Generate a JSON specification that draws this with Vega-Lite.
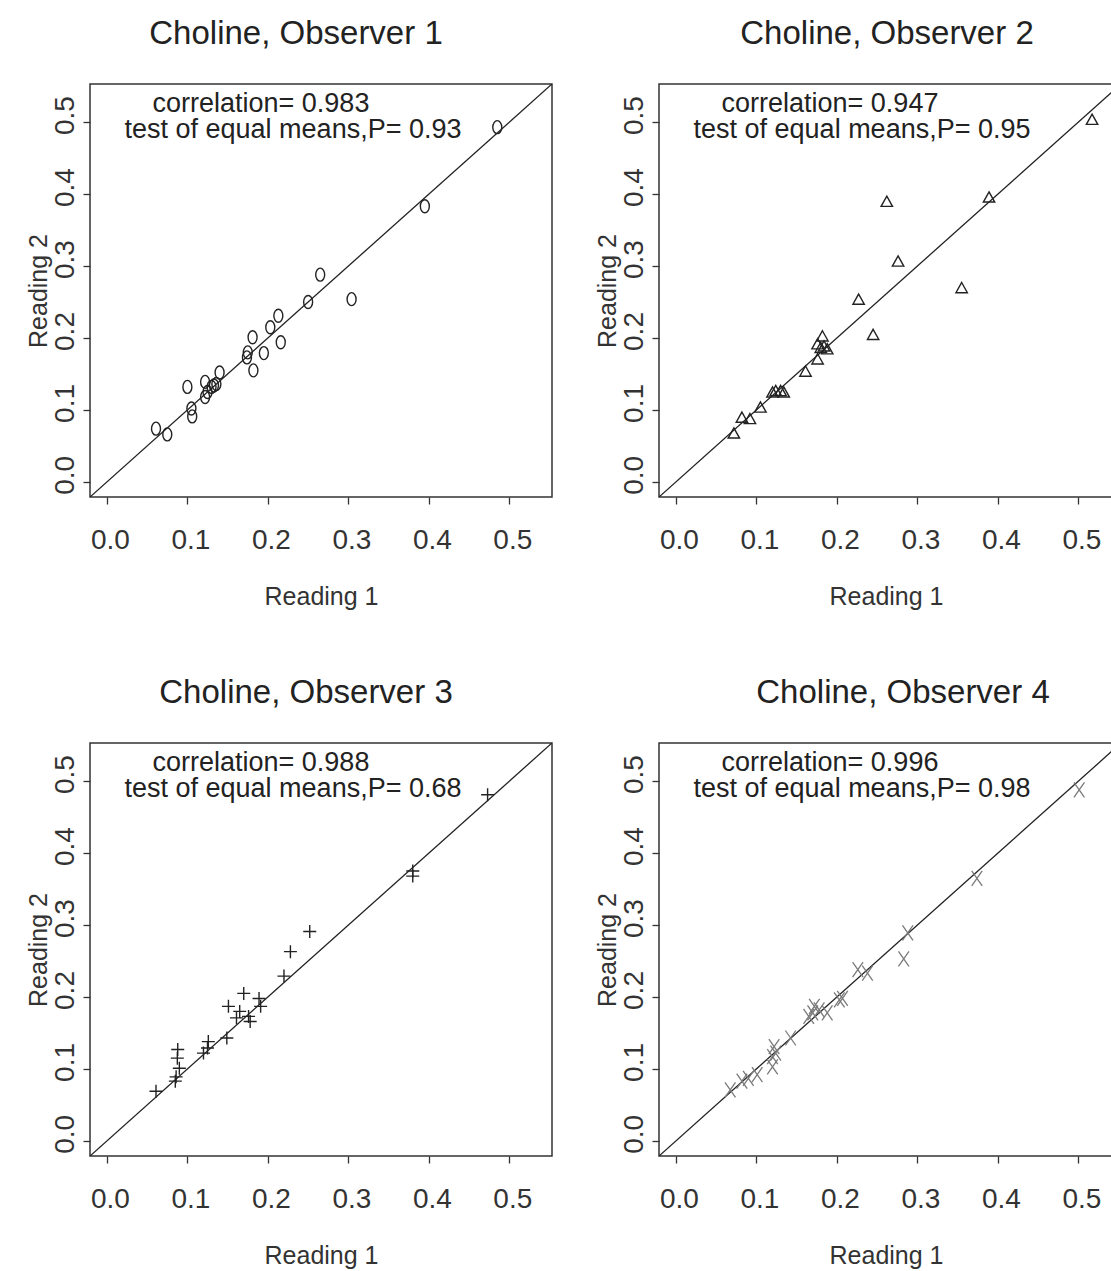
{
  "$schema": "https://vega.github.io/schema/vega-lite/v6.json",
  "padding": {"left": 25, "top": 17, "right": 0, "bottom": 0},
  "background": "white",
  "columns": 2,
  "bounds": "flush",
  "spacing": {"column": 107, "row": 246},
  "config": {
    "view": {"stroke": "#333333", "strokeWidth": 1.5},
    "font": "Liberation Sans",
    "title": {"font": "Liberation Sans", "fontSize": 33, "fontWeight": "normal", "color": "#222222", "offset": 33, "baseline": "alphabetic", "anchor": "middle", "frame": "group"},
    "axis": {"grid": false, "domain": false, "tickColor": "#333333", "tickSize": 7, "tickWidth": 1.3, "labelFont": "Liberation Sans", "labelFontSize": 28, "labelColor": "#333333", "titleFont": "Liberation Sans", "titleFontSize": 25, "titleFontWeight": "normal", "titleColor": "#333333", "format": ".1f", "labelFlush": false, "labelOverlap": false},
    "axisX": {"labelPadding": 22, "titlePadding": 30, "labelAngle": 0, "labelOffset": 3},
    "axisY": {"labelAngle": -90, "labelAlign": "center", "labelBaseline": "bottom", "labelPadding": 4, "titlePadding": 0, "labelOffset": -7}
  },
  "datasets": {
    "points": [
      {"obs": 1, "r1": 0.485, "r2": 0.493}, {"obs": 1, "r1": 0.395, "r2": 0.383}, {"obs": 1, "r1": 0.265, "r2": 0.288}, {"obs": 1, "r1": 0.250, "r2": 0.250}, {"obs": 1, "r1": 0.304, "r2": 0.254},
      {"obs": 1, "r1": 0.213, "r2": 0.231}, {"obs": 1, "r1": 0.203, "r2": 0.215}, {"obs": 1, "r1": 0.181, "r2": 0.201}, {"obs": 1, "r1": 0.216, "r2": 0.194}, {"obs": 1, "r1": 0.195, "r2": 0.179},
      {"obs": 1, "r1": 0.175, "r2": 0.180}, {"obs": 1, "r1": 0.174, "r2": 0.173}, {"obs": 1, "r1": 0.182, "r2": 0.155}, {"obs": 1, "r1": 0.140, "r2": 0.152}, {"obs": 1, "r1": 0.122, "r2": 0.139},
      {"obs": 1, "r1": 0.133, "r2": 0.134}, {"obs": 1, "r1": 0.130, "r2": 0.132}, {"obs": 1, "r1": 0.136, "r2": 0.136}, {"obs": 1, "r1": 0.125, "r2": 0.125}, {"obs": 1, "r1": 0.122, "r2": 0.118},
      {"obs": 1, "r1": 0.100, "r2": 0.132}, {"obs": 1, "r1": 0.105, "r2": 0.102}, {"obs": 1, "r1": 0.106, "r2": 0.091}, {"obs": 1, "r1": 0.061, "r2": 0.074}, {"obs": 1, "r1": 0.075, "r2": 0.066},
      {"obs": 2, "r1": 0.517, "r2": 0.504}, {"obs": 2, "r1": 0.389, "r2": 0.396}, {"obs": 2, "r1": 0.262, "r2": 0.390}, {"obs": 2, "r1": 0.276, "r2": 0.307}, {"obs": 2, "r1": 0.355, "r2": 0.270},
      {"obs": 2, "r1": 0.227, "r2": 0.254}, {"obs": 2, "r1": 0.245, "r2": 0.205}, {"obs": 2, "r1": 0.182, "r2": 0.203}, {"obs": 2, "r1": 0.176, "r2": 0.192}, {"obs": 2, "r1": 0.184, "r2": 0.189},
      {"obs": 2, "r1": 0.188, "r2": 0.185}, {"obs": 2, "r1": 0.180, "r2": 0.187}, {"obs": 2, "r1": 0.176, "r2": 0.171}, {"obs": 2, "r1": 0.161, "r2": 0.154}, {"obs": 2, "r1": 0.124, "r2": 0.127},
      {"obs": 2, "r1": 0.130, "r2": 0.127}, {"obs": 2, "r1": 0.134, "r2": 0.125}, {"obs": 2, "r1": 0.120, "r2": 0.125}, {"obs": 2, "r1": 0.105, "r2": 0.104}, {"obs": 2, "r1": 0.082, "r2": 0.090},
      {"obs": 2, "r1": 0.092, "r2": 0.088}, {"obs": 2, "r1": 0.072, "r2": 0.068},
      {"obs": 3, "r1": 0.473, "r2": 0.481}, {"obs": 3, "r1": 0.380, "r2": 0.375}, {"obs": 3, "r1": 0.380, "r2": 0.368}, {"obs": 3, "r1": 0.252, "r2": 0.291}, {"obs": 3, "r1": 0.228, "r2": 0.263},
      {"obs": 3, "r1": 0.220, "r2": 0.229}, {"obs": 3, "r1": 0.170, "r2": 0.205}, {"obs": 3, "r1": 0.189, "r2": 0.198}, {"obs": 3, "r1": 0.191, "r2": 0.187}, {"obs": 3, "r1": 0.151, "r2": 0.187},
      {"obs": 3, "r1": 0.165, "r2": 0.180}, {"obs": 3, "r1": 0.161, "r2": 0.171}, {"obs": 3, "r1": 0.176, "r2": 0.173}, {"obs": 3, "r1": 0.178, "r2": 0.166}, {"obs": 3, "r1": 0.149, "r2": 0.143},
      {"obs": 3, "r1": 0.126, "r2": 0.138}, {"obs": 3, "r1": 0.125, "r2": 0.129}, {"obs": 3, "r1": 0.120, "r2": 0.122}, {"obs": 3, "r1": 0.088, "r2": 0.127}, {"obs": 3, "r1": 0.0875, "r2": 0.115},
      {"obs": 3, "r1": 0.090, "r2": 0.101}, {"obs": 3, "r1": 0.086, "r2": 0.089}, {"obs": 3, "r1": 0.085, "r2": 0.083}, {"obs": 3, "r1": 0.061, "r2": 0.069},
      {"obs": 4, "r1": 0.501, "r2": 0.488}, {"obs": 4, "r1": 0.374, "r2": 0.365}, {"obs": 4, "r1": 0.288, "r2": 0.289}, {"obs": 4, "r1": 0.283, "r2": 0.253}, {"obs": 4, "r1": 0.226, "r2": 0.238},
      {"obs": 4, "r1": 0.238, "r2": 0.233}, {"obs": 4, "r1": 0.207, "r2": 0.198}, {"obs": 4, "r1": 0.203, "r2": 0.196}, {"obs": 4, "r1": 0.172, "r2": 0.187}, {"obs": 4, "r1": 0.178, "r2": 0.182},
      {"obs": 4, "r1": 0.170, "r2": 0.178}, {"obs": 4, "r1": 0.188, "r2": 0.178}, {"obs": 4, "r1": 0.165, "r2": 0.173}, {"obs": 4, "r1": 0.1425, "r2": 0.143}, {"obs": 4, "r1": 0.122, "r2": 0.131},
      {"obs": 4, "r1": 0.124, "r2": 0.122}, {"obs": 4, "r1": 0.120, "r2": 0.117}, {"obs": 4, "r1": 0.120, "r2": 0.103}, {"obs": 4, "r1": 0.101, "r2": 0.092}, {"obs": 4, "r1": 0.090, "r2": 0.087},
      {"obs": 4, "r1": 0.082, "r2": 0.083}, {"obs": 4, "r1": 0.0675, "r2": 0.071}
    ],
    "diag": [{"d": -0.1}, {"d": 0.7}],
    "annot": [
      {"obs": 1, "line": 1, "label": "correlation= 0.983"}, {"obs": 1, "line": 2, "label": "test of equal means,P= 0.93"},
      {"obs": 2, "line": 1, "label": "correlation= 0.947"}, {"obs": 2, "line": 2, "label": "test of equal means,P= 0.95"},
      {"obs": 3, "line": 1, "label": "correlation= 0.988"}, {"obs": 3, "line": 2, "label": "test of equal means,P= 0.68"},
      {"obs": 4, "line": 1, "label": "correlation= 0.996"}, {"obs": 4, "line": 2, "label": "test of equal means,P= 0.98"}
    ]
  },
  "concat": [
    {
      "width": 462, "height": 413,
      "title": {"text": "Choline, Observer 1", "dx": -25},
      "layer": [
        {"data": {"name": "diag"}, "mark": {"type": "line", "clip": true, "color": "#222222", "strokeWidth": 1.3},
         "encoding": {"x": {"field": "d", "type": "quantitative", "title": "Reading 1", "axis": {"values": [0, 0.1, 0.2, 0.3, 0.4, 0.5]}, "scale": {"domain": [-0.021, 0.553], "nice": false, "zero": false}},
                      "y": {"field": "d", "type": "quantitative", "title": "Reading 2", "axis": {"values": [0, 0.1, 0.2, 0.3, 0.4, 0.5]}, "scale": {"domain": [-0.021, 0.553], "nice": false, "zero": false}}}},
        {"data": {"name": "points"}, "transform": [{"filter": "datum.obs == 1"}],
         "mark": {"type": "point", "filled": false, "opacity": 1, "color": "#222222", "strokeWidth": 1.4, "size": 169, "shape": "M0,-1C0.38,-1 0.69,-0.55 0.69,0C0.69,0.55 0.38,1 0,1C-0.38,1 -0.69,0.55 -0.69,0C-0.69,-0.55 -0.38,-1 0,-1Z"},
         "encoding": {"x": {"field": "r1", "type": "quantitative", "title": "Reading 1", "axis": {"values": [0, 0.1, 0.2, 0.3, 0.4, 0.5]}}, "y": {"field": "r2", "type": "quantitative", "title": "Reading 2", "axis": {"values": [0, 0.1, 0.2, 0.3, 0.4, 0.5]}}}},
        {"data": {"name": "annot"}, "transform": [{"filter": "datum.obs == 1 && datum.line == 1"}],
         "mark": {"type": "text", "font": "Liberation Sans", "fontSize": 27, "color": "#222222", "align": "center", "baseline": "alphabetic"},
         "encoding": {"x": {"datum": 0.1914, "type": "quantitative"}, "y": {"datum": 0.5145, "type": "quantitative"}, "text": {"field": "label"}}},
        {"data": {"name": "annot"}, "transform": [{"filter": "datum.obs == 1 && datum.line == 2"}],
         "mark": {"type": "text", "font": "Liberation Sans", "fontSize": 27, "color": "#222222", "align": "center", "baseline": "alphabetic"},
         "encoding": {"x": {"datum": 0.2312, "type": "quantitative"}, "y": {"datum": 0.478, "type": "quantitative"}, "text": {"field": "label"}}}
      ]
    },
    {
      "width": 454, "height": 413,
      "title": {"text": "Choline, Observer 2", "dx": 1},
      "layer": [
        {"data": {"name": "diag"}, "mark": {"type": "line", "clip": true, "color": "#222222", "strokeWidth": 1.3},
         "encoding": {"x": {"field": "d", "type": "quantitative", "title": "Reading 1", "axis": {"values": [0, 0.1, 0.2, 0.3, 0.4, 0.5]}, "scale": {"domain": [-0.021, 0.543], "nice": false, "zero": false}},
                      "y": {"field": "d", "type": "quantitative", "title": "Reading 2", "axis": {"values": [0, 0.1, 0.2, 0.3, 0.4, 0.5]}, "scale": {"domain": [-0.021, 0.553], "nice": false, "zero": false}}}},
        {"data": {"name": "points"}, "transform": [{"filter": "datum.obs == 2"}],
         "mark": {"type": "point", "filled": false, "opacity": 1, "color": "#222222", "strokeWidth": 1.4, "size": 144, "shape": "M0,-0.85L0.95,0.85L-0.95,0.85Z"},
         "encoding": {"x": {"field": "r1", "type": "quantitative", "title": "Reading 1", "axis": {"values": [0, 0.1, 0.2, 0.3, 0.4, 0.5]}}, "y": {"field": "r2", "type": "quantitative", "title": "Reading 2", "axis": {"values": [0, 0.1, 0.2, 0.3, 0.4, 0.5]}}}},
        {"data": {"name": "annot"}, "transform": [{"filter": "datum.obs == 2 && datum.line == 1"}],
         "mark": {"type": "text", "font": "Liberation Sans", "fontSize": 27, "color": "#222222", "align": "center", "baseline": "alphabetic"},
         "encoding": {"x": {"datum": 0.1914, "type": "quantitative"}, "y": {"datum": 0.5145, "type": "quantitative"}, "text": {"field": "label"}}},
        {"data": {"name": "annot"}, "transform": [{"filter": "datum.obs == 2 && datum.line == 2"}],
         "mark": {"type": "text", "font": "Liberation Sans", "fontSize": 27, "color": "#222222", "align": "center", "baseline": "alphabetic"},
         "encoding": {"x": {"datum": 0.2312, "type": "quantitative"}, "y": {"datum": 0.478, "type": "quantitative"}, "text": {"field": "label"}}}
      ]
    },
    {
      "width": 462, "height": 413,
      "title": {"text": "Choline, Observer 3", "dx": -15},
      "layer": [
        {"data": {"name": "diag"}, "mark": {"type": "line", "clip": true, "color": "#222222", "strokeWidth": 1.3},
         "encoding": {"x": {"field": "d", "type": "quantitative", "title": "Reading 1", "axis": {"values": [0, 0.1, 0.2, 0.3, 0.4, 0.5]}, "scale": {"domain": [-0.021, 0.553], "nice": false, "zero": false}},
                      "y": {"field": "d", "type": "quantitative", "title": "Reading 2", "axis": {"values": [0, 0.1, 0.2, 0.3, 0.4, 0.5]}, "scale": {"domain": [-0.021, 0.553], "nice": false, "zero": false}}}},
        {"data": {"name": "points"}, "transform": [{"filter": "datum.obs == 3"}],
         "mark": {"type": "point", "filled": false, "opacity": 1, "color": "#222222", "strokeWidth": 1.4, "size": 169, "shape": "M-1,0L1,0M0,-1L0,1"},
         "encoding": {"x": {"field": "r1", "type": "quantitative", "title": "Reading 1", "axis": {"values": [0, 0.1, 0.2, 0.3, 0.4, 0.5]}}, "y": {"field": "r2", "type": "quantitative", "title": "Reading 2", "axis": {"values": [0, 0.1, 0.2, 0.3, 0.4, 0.5]}}}},
        {"data": {"name": "annot"}, "transform": [{"filter": "datum.obs == 3 && datum.line == 1"}],
         "mark": {"type": "text", "font": "Liberation Sans", "fontSize": 27, "color": "#222222", "align": "center", "baseline": "alphabetic"},
         "encoding": {"x": {"datum": 0.1914, "type": "quantitative"}, "y": {"datum": 0.5145, "type": "quantitative"}, "text": {"field": "label"}}},
        {"data": {"name": "annot"}, "transform": [{"filter": "datum.obs == 3 && datum.line == 2"}],
         "mark": {"type": "text", "font": "Liberation Sans", "fontSize": 27, "color": "#222222", "align": "center", "baseline": "alphabetic"},
         "encoding": {"x": {"datum": 0.2312, "type": "quantitative"}, "y": {"datum": 0.478, "type": "quantitative"}, "text": {"field": "label"}}}
      ]
    },
    {
      "width": 454, "height": 413,
      "title": {"text": "Choline, Observer 4", "dx": 17},
      "layer": [
        {"data": {"name": "diag"}, "mark": {"type": "line", "clip": true, "color": "#222222", "strokeWidth": 1.3},
         "encoding": {"x": {"field": "d", "type": "quantitative", "title": "Reading 1", "axis": {"values": [0, 0.1, 0.2, 0.3, 0.4, 0.5]}, "scale": {"domain": [-0.021, 0.543], "nice": false, "zero": false}},
                      "y": {"field": "d", "type": "quantitative", "title": "Reading 2", "axis": {"values": [0, 0.1, 0.2, 0.3, 0.4, 0.5]}, "scale": {"domain": [-0.021, 0.553], "nice": false, "zero": false}}}},
        {"data": {"name": "points"}, "transform": [{"filter": "datum.obs == 4"}],
         "mark": {"type": "point", "filled": false, "opacity": 1, "color": "#7a7a7a", "strokeWidth": 1.3, "size": 225, "shape": "M-0.7,-1L0.7,1M0.7,-1L-0.7,1"},
         "encoding": {"x": {"field": "r1", "type": "quantitative", "title": "Reading 1", "axis": {"values": [0, 0.1, 0.2, 0.3, 0.4, 0.5]}}, "y": {"field": "r2", "type": "quantitative", "title": "Reading 2", "axis": {"values": [0, 0.1, 0.2, 0.3, 0.4, 0.5]}}}},
        {"data": {"name": "annot"}, "transform": [{"filter": "datum.obs == 4 && datum.line == 1"}],
         "mark": {"type": "text", "font": "Liberation Sans", "fontSize": 27, "color": "#222222", "align": "center", "baseline": "alphabetic"},
         "encoding": {"x": {"datum": 0.1914, "type": "quantitative"}, "y": {"datum": 0.5145, "type": "quantitative"}, "text": {"field": "label"}}},
        {"data": {"name": "annot"}, "transform": [{"filter": "datum.obs == 4 && datum.line == 2"}],
         "mark": {"type": "text", "font": "Liberation Sans", "fontSize": 27, "color": "#222222", "align": "center", "baseline": "alphabetic"},
         "encoding": {"x": {"datum": 0.2312, "type": "quantitative"}, "y": {"datum": 0.478, "type": "quantitative"}, "text": {"field": "label"}}}
      ]
    }
  ]
}
